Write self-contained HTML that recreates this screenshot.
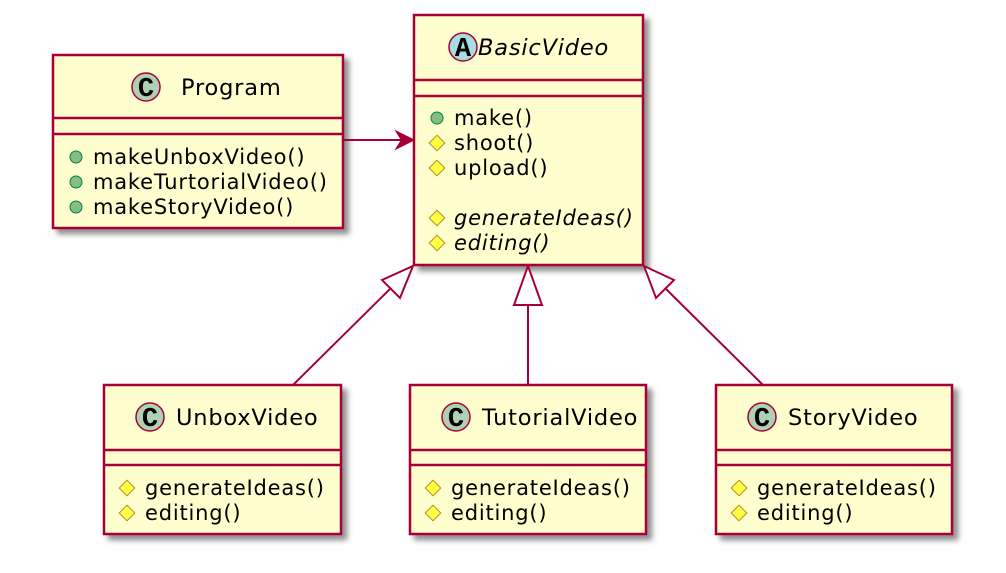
<!DOCTYPE html>
<html><head><meta charset="utf-8"><style>
html,body{margin:0;padding:0;background:#fff;}
svg text{font-family:"DejaVu Sans","Liberation Sans",sans-serif;font-size:21px;letter-spacing:0.8px;fill:#000;}
svg text.t{font-size:22.5px;}
svg text.g{font-family:"Liberation Mono",monospace;font-size:27px;font-weight:bold;letter-spacing:0;}
</style></head><body>
<svg width="1006" height="568" viewBox="0 0 1006 568" xmlns="http://www.w3.org/2000/svg">
<defs>
<filter id="sh" x="-10%" y="-10%" width="130%" height="130%">
<feGaussianBlur in="SourceAlpha" stdDeviation="3"/>
<feOffset dx="5" dy="5"/>
<feComponentTransfer><feFuncA type="linear" slope="0.45"/></feComponentTransfer>
<feMerge><feMergeNode/><feMergeNode in="SourceGraphic"/></feMerge>
</filter>
<g id="pub"><circle r="6" fill="#84BE84" stroke="#038048" stroke-width="1"/></g>
<g id="prot"><rect x="-5.5" y="-5.5" width="11" height="11" fill="#FFFF44" stroke="#B38D22" stroke-width="1" transform="rotate(45)"/></g>
</defs>
<g stroke="#A80036" stroke-width="2.5" fill="#FEFECE">
<rect x="53" y="55" width="290" height="173" filter="url(#sh)"/>
<rect x="414" y="15" width="229" height="250" filter="url(#sh)"/>
<rect x="104" y="385" width="237" height="149" filter="url(#sh)"/>
<rect x="410" y="385" width="236" height="149" filter="url(#sh)"/>
<rect x="716" y="385" width="236" height="149" filter="url(#sh)"/>
<line x1="53" y1="118" x2="343" y2="118"/><line x1="53" y1="134" x2="343" y2="134"/>
<line x1="414" y1="80" x2="643" y2="80"/><line x1="414" y1="96" x2="643" y2="96"/>
<line x1="104" y1="450" x2="341" y2="450"/><line x1="104" y1="465" x2="341" y2="465"/>
<line x1="410" y1="450" x2="646" y2="450"/><line x1="410" y1="465" x2="646" y2="465"/>
<line x1="716" y1="450" x2="952" y2="450"/><line x1="716" y1="465" x2="952" y2="465"/>
</g>
<g stroke="#A80036" stroke-width="2" fill="none">
<line x1="343" y1="140" x2="408" y2="140"/>
<polygon points="413,140 397,132 402,140 397,148" fill="#A80036"/>
<line x1="393" y1="286" x2="293" y2="385"/>
<polygon points="413,266 400,298 382,280" fill="#fff"/>
<line x1="528" y1="305" x2="528" y2="385"/>
<polygon points="528,266 542,305 514,305" fill="#fff"/>
<line x1="663" y1="286" x2="763" y2="385"/>
<polygon points="644,266 674,280 656,298" fill="#fff"/>
</g>
<g stroke="#A80036" stroke-width="1.5">
<circle cx="146" cy="87" r="14" fill="#ADD1B2"/>
<circle cx="463" cy="47" r="14" fill="#A9DCDF"/>
<circle cx="150" cy="417" r="14" fill="#ADD1B2"/>
<circle cx="456" cy="417" r="14" fill="#ADD1B2"/>
<circle cx="762" cy="417" r="14" fill="#ADD1B2"/>
</g>
<text class="g" x="146" y="96" text-anchor="middle">C</text>
<text class="g" x="463" y="56" text-anchor="middle">A</text>
<text class="g" x="150" y="426" text-anchor="middle">C</text>
<text class="g" x="456" y="426" text-anchor="middle">C</text>
<text class="g" x="762" y="426" text-anchor="middle">C</text>
<text class="t" x="181" y="95">Program</text>
<text class="t" x="478" y="55" font-style="italic">BasicVideo</text>
<text class="t" x="176" y="425">UnboxVideo</text>
<text class="t" x="482" y="425">TutorialVideo</text>
<text class="t" x="788" y="425">StoryVideo</text>
<use href="#pub" x="76" y="157"/><text x="93" y="164">makeUnboxVideo()</text>
<use href="#pub" x="76" y="182"/><text x="93" y="189">makeTurtorialVideo()</text>
<use href="#pub" x="76" y="207"/><text x="93" y="214">makeStoryVideo()</text>
<use href="#pub" x="437" y="118"/><text x="454" y="125">make()</text>
<use href="#prot" x="437" y="143"/><text x="454" y="150">shoot()</text>
<use href="#prot" x="437" y="168"/><text x="454" y="175">upload()</text>
<use href="#prot" x="437" y="218"/><text x="454" y="225" font-style="italic">generateIdeas()</text>
<use href="#prot" x="437" y="243"/><text x="454" y="250" font-style="italic">editing()</text>
<use href="#prot" x="127" y="488"/><text x="145" y="495">generateIdeas()</text>
<use href="#prot" x="127" y="513"/><text x="145" y="520">editing()</text>
<use href="#prot" x="433" y="488"/><text x="451" y="495">generateIdeas()</text>
<use href="#prot" x="433" y="513"/><text x="451" y="520">editing()</text>
<use href="#prot" x="739" y="488"/><text x="757" y="495">generateIdeas()</text>
<use href="#prot" x="739" y="513"/><text x="757" y="520">editing()</text>
</svg>
</body></html>
